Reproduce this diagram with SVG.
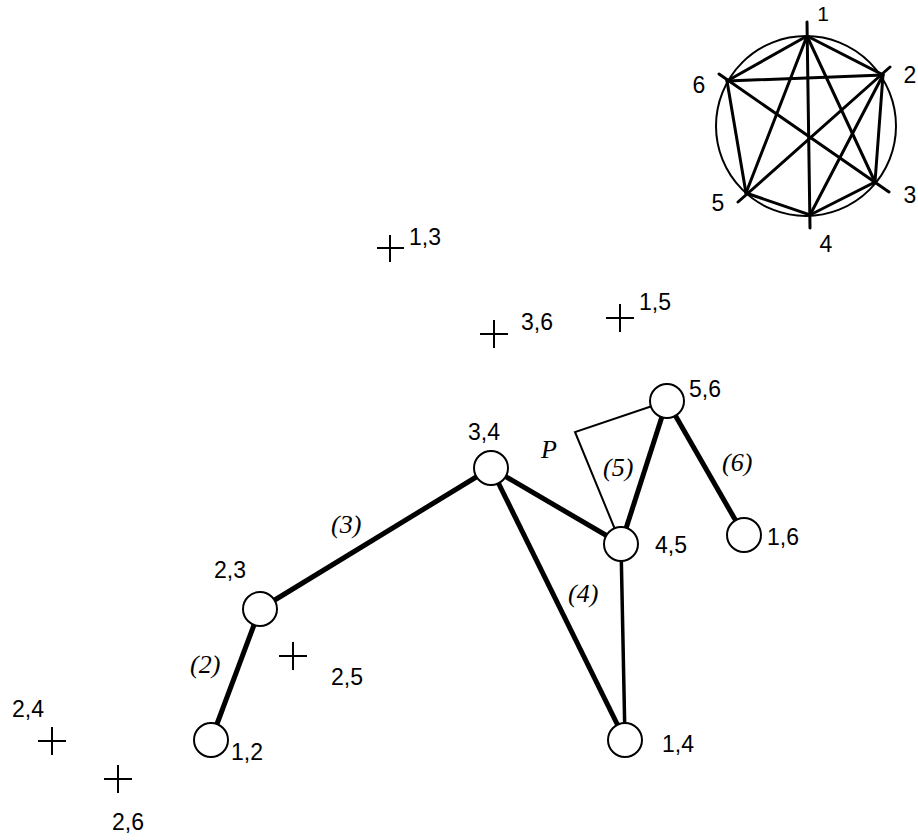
<svg xmlns="http://www.w3.org/2000/svg" width="918" height="840" viewBox="0 0 918 840">
<style>
.lbl{font-family:"Liberation Sans",Arial,sans-serif;font-size:23px;fill:#000}
.it{font-family:"Liberation Serif","Times New Roman",serif;font-size:26px;font-style:italic;fill:#000}
.thick{stroke:#000;stroke-width:5;fill:none}
.med{stroke:#000;stroke-width:3.5;fill:none}
.thin{stroke:#000;stroke-width:2;fill:none}
.ins{stroke:#000;stroke-width:3;fill:none;stroke-linecap:round}
.node{fill:#fff;stroke:#000;stroke-width:2}
.cross{stroke:#000;stroke-width:2;fill:none}
</style>
<rect width="918" height="840" fill="#fff"/>
<g id="inset">
<circle cx="806" cy="126" r="90" class="thin"/>
<line x1="807" y1="22" x2="810" y2="228" class="ins"/>
<line x1="890" y1="67" x2="738" y2="202" class="ins"/>
<line x1="719" y1="74" x2="889" y2="192" class="ins"/>
<polyline points="807,36 883,75 875,182 810,215 746,193 727,81 807,36" class="ins"/>
<line x1="807" y1="36" x2="875" y2="182" class="ins"/>
<line x1="807" y1="36" x2="746" y2="193" class="ins"/>
<line x1="883" y1="75" x2="810" y2="215" class="ins"/>
<line x1="883" y1="75" x2="727" y2="81" class="ins"/>
<text class="lbl" x="823" y="21" text-anchor="middle" style="font-size:21px">1</text>
<text class="lbl" x="910" y="83" text-anchor="middle">2</text>
<text class="lbl" x="910" y="203" text-anchor="middle">3</text>
<text class="lbl" x="826" y="252" text-anchor="middle">4</text>
<text class="lbl" x="718" y="211" text-anchor="middle">5</text>
<text class="lbl" x="699" y="93" text-anchor="middle">6</text>
</g>
<g id="connectors">
<line x1="211" y1="740" x2="260" y2="609" class="thick"/>
<line x1="260" y1="609" x2="491" y2="468" class="thick"/>
<line x1="491" y1="468" x2="621" y2="544" class="thick"/>
<line x1="491" y1="468" x2="625" y2="740" class="thick"/>
<line x1="621" y1="544" x2="667" y2="401" class="thick"/>
<line x1="667" y1="401" x2="744" y2="535" class="thick"/>
<line x1="621" y1="544" x2="625" y2="740" class="med"/>
<polyline points="667,401 575,432 621,544" class="thin"/>
</g>
<g id="n12"><circle cx="211" cy="740" r="17" class="node"/><text class="lbl" x="231" y="760">1,2</text></g>
<g id="n23"><circle cx="260" cy="609" r="17" class="node"/><text class="lbl" x="214" y="578">2,3</text></g>
<g id="n34"><circle cx="491" cy="468" r="17" class="node"/><text class="lbl" x="468" y="440">3,4</text></g>
<g id="n45"><circle cx="621" cy="544" r="17" class="node"/><text class="lbl" x="655" y="553">4,5</text></g>
<g id="n56"><circle cx="667" cy="401" r="17" class="node"/><text class="lbl" x="689" y="397">5,6</text></g>
<g id="n16"><circle cx="744" cy="535" r="17" class="node"/><text class="lbl" x="767" y="545">1,6</text></g>
<g id="n14"><circle cx="625" cy="740" r="17" class="node"/><text class="lbl" x="662" y="752">1,4</text></g>
<g id="c13"><path d="M377 248H404M390 235V262" class="cross"/><text class="lbl" x="409" y="245">1,3</text></g>
<g id="c36"><path d="M480 334H508M494 320V348" class="cross"/><text class="lbl" x="521" y="330">3,6</text></g>
<g id="c15"><path d="M606 318H634M620 304V332" class="cross"/><text class="lbl" x="639" y="310">1,5</text></g>
<g id="c25"><path d="M279 656H307M293 642V670" class="cross"/><text class="lbl" x="331" y="685">2,5</text></g>
<g id="c24"><path d="M38 741H66M52 727V755" class="cross"/><text class="lbl" x="12" y="717">2,4</text></g>
<g id="c26"><path d="M104 779H132M118 765V793" class="cross"/><text class="lbl" x="112" y="830">2,6</text></g>
<g id="labels">
<text class="it" x="331" y="533">(3)</text>
<text class="it" x="190" y="673">(2)</text>
<text class="it" x="568" y="602">(4)</text>
<text class="it" x="603" y="476">(5)</text>
<text class="it" x="722" y="471">(6)</text>
<text class="it" x="541" y="458">P</text>
</g>
</svg>
